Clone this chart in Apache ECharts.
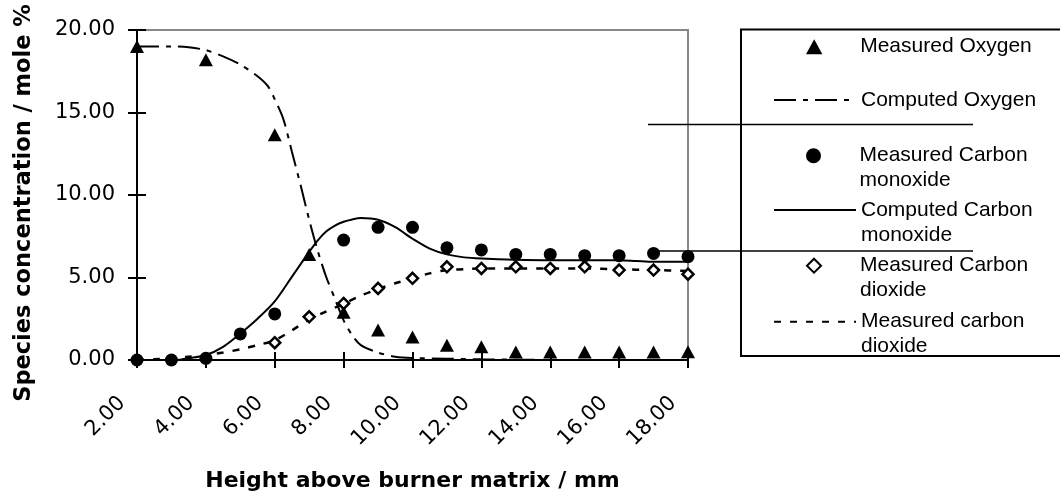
<!DOCTYPE html>
<html>
<head>
<meta charset="utf-8">
<script src="https://cdn.jsdelivr.net/npm/echarts@6/dist/echarts.min.js"></script>
<style>html,body{margin:0;padding:0;background:#fff}#c{width:1060px;height:497px}</style>
</head>
<body>
<div id="c"></div>
<script>
// ---- data ----
const xTickLabels = ['2.00', '4.00', '6.00', '8.00', '10.00', '12.00', '14.00', '16.00', '18.00'];
const yTickLabels = ['0.00', '5.00', '10.00', '15.00', '20.00'];

const measuredO2 = [[2, 19.0], [4, 18.2], [6, 13.65], [7, 6.4], [8, 2.9], [9, 1.82], [10, 1.39], [11, 0.9], [12, 0.8],
  [13, 0.48], [14, 0.48], [15, 0.48], [16, 0.48], [17, 0.48], [18, 0.5]];
const computedO2 = [[2, 19.0], [3, 19.0], [3.5, 18.95], [4, 18.78], [4.5, 18.4], [5, 17.9], [5.5, 17.2], [5.8, 16.6],
  [6, 15.8], [6.25, 14.6], [6.5, 12.6], [6.75, 10.6], [7, 8.5], [7.25, 6.6], [7.5, 5.0], [7.75, 3.7], [8, 2.4],
  [8.25, 1.5], [8.5, 0.9], [9, 0.45], [9.5, 0.2], [10, 0.12], [11, 0.08], [12, 0.04], [13, 0.02], [14, 0.0],
  [15, 0.0], [16, 0.0], [17, 0.0], [18, 0.0]];
const measuredCO = [[2, 0.0], [3, 0.0], [4, 0.1], [5, 1.58], [6, 2.79], [8, 7.27], [9, 8.04], [10, 8.04], [11, 6.8],
  [12, 6.67], [13, 6.4], [14, 6.4], [15, 6.32], [16, 6.32], [17, 6.46], [18, 6.26]];
const computedCO = [[2, 0.0], [3, 0.0], [3.25, 0.02], [3.5, 0.1], [4, 0.3], [4.5, 0.8], [5, 1.6], [5.5, 2.5], [6, 3.55],
  [6.5, 5.05], [7, 6.55], [7.25, 7.25], [7.5, 7.8], [7.75, 8.15], [8, 8.38], [8.25, 8.52], [8.5, 8.6], [9, 8.5],
  [9.5, 8.05], [10, 7.35], [10.5, 6.75], [11, 6.4], [11.5, 6.22], [12, 6.15], [13, 6.08], [14, 6.05], [15, 6.05],
  [16, 6.05], [16.5, 6.0], [17, 5.95], [18, 5.95]];
const measuredCO2 = [[6, 1.05], [7, 2.62], [8, 3.43], [9, 4.34], [10, 4.95], [11, 5.65], [12, 5.55], [13, 5.65],
  [14, 5.55], [15, 5.65], [16, 5.45], [17, 5.45], [18, 5.2]];
const computedCO2 = [[2, 0.0], [2.5, 0.05], [3, 0.1], [3.5, 0.2], [4, 0.3], [4.5, 0.45], [5, 0.65], [5.5, 0.9], [6, 1.2],
  [6.5, 1.8], [7, 2.45], [7.5, 2.95], [8, 3.4], [8.5, 3.9], [9, 4.3], [9.5, 4.65], [10, 4.95], [10.5, 5.25],
  [11, 5.45], [11.5, 5.5], [12, 5.55], [13, 5.55], [14, 5.55], [15, 5.55], [16, 5.5], [17, 5.45], [18, 5.4]];

const seriesNames = ['Measured Oxygen', 'Computed Oxygen', 'Measured Carbon monoxide',
  'Computed Carbon monoxide', 'Measured Carbon dioxide', 'Measured carbon dioxide'];
const legendTexts = ['Measured Oxygen', 'Computed Oxygen', '\nMeasured Carbon\nmonoxide',
  '\nComputed Carbon\nmonoxide', '\nMeasured Carbon\ndioxide', '\nMeasured carbon\ndioxide'];

// ---- chart ----
const chart = echarts.init(document.getElementById('c'), null, {renderer: 'canvas'});
const tickFont = 'DejaVu Sans';
const xMap = {}; xTickLabels.forEach((t, i) => { xMap[2 + 2 * i] = t; });
const yMap = {}; yTickLabels.forEach((t, i) => { yMap[5 * i] = t; });

const legendTops = [34.2, 87.5, 118.2, 172.5, 228.2, 284.2];
const legendLefts = [806, 773, 806, 773, 806, 773];
const legendHeights = [15, 12, 15, 12, 14, 12];
const legendIcons = [
  'path://M6,0L12,11L0,11Z',
  null,
  'path://M0,6A6,6 0 1,0 12,6A6,6 0 1,0 0,6Z',
  null,
  'path://M6,0L12,6L6,12L0,6Z',
  null
];
const legends = seriesNames.map((n, i) => {
  const item = {name: n};
  if (legendIcons[i]) {
    item.icon = legendIcons[i];
    item.itemStyle = i === 4 ? {color: '#fff', borderColor: '#000', borderWidth: 2, opacity: 1}
                             : {color: '#000', borderWidth: 0, opacity: 1};
  } else {
    item.itemStyle = {opacity: 0};
  }
  return {
    data: [item], left: legendLefts[i], top: legendTops[i], orient: 'vertical', padding: 0, itemGap: 0,
    itemWidth: 82, itemHeight: legendHeights[i], selectedMode: false, symbolKeepAspect: true,
    formatter: () => legendTexts[i],
    textStyle: {fontFamily: 'Liberation Sans', fontSize: 21, color: '#000', lineHeight: 25}
  };
});

const option = {
  backgroundColor: '#fff',
  animation: false,
  grid: {left: 137, right: 372, top: 30, bottom: 137, show: true, borderColor: '#888', borderWidth: 2, backgroundColor: '#fff'},
  legend: legends,
  xAxis: [{
    type: 'value', min: 2, max: 18, interval: 2, position: 'bottom',
    name: 'Height above burner matrix / mm', nameLocation: 'middle', nameGap: 110,
    nameTextStyle: {fontFamily: 'DejaVu Sans', fontWeight: 'bold', fontSize: 22, color: '#000'},
    axisLine: {show: true, lineStyle: {color: '#000', width: 2}},
    axisTick: {show: true, inside: false, length: 8, lineStyle: {color: '#000', width: 2}},
    axisLabel: {rotate: 45, margin: 25, padding: [0, 21, 0, 0], fontFamily: tickFont, fontSize: 21, color: '#000',
      formatter: v => xMap[v] !== undefined ? xMap[v] : ''},
    splitLine: {show: false}
  }, {
    type: 'value', min: 2, max: 18, interval: 2, position: 'bottom',
    axisLine: {show: false}, axisLabel: {show: false}, splitLine: {show: false},
    axisTick: {show: true, inside: true, length: 8, lineStyle: {color: '#000', width: 2}}
  }],
  yAxis: [{
    type: 'value', min: 0, max: 20, interval: 5, position: 'left',
    name: 'Species concentration / mole %', nameLocation: 'middle', nameGap: 101, nameRotate: 90,
    nameTextStyle: {fontFamily: 'DejaVu Sans', fontWeight: 'bold', fontSize: 22.5, color: '#000', padding: [0, 16, 0, 0]},
    axisLine: {show: true, lineStyle: {color: '#000', width: 2}},
    axisTick: {show: true, inside: false, length: 9, lineStyle: {color: '#000', width: 2}},
    axisLabel: {margin: 22, fontFamily: tickFont, fontSize: 21, color: '#000',
      formatter: v => yMap[v] !== undefined ? yMap[v] : ''},
    splitLine: {show: false}
  }, {
    type: 'value', min: 0, max: 20, interval: 5, position: 'left',
    axisLine: {show: false}, axisLabel: {show: false}, splitLine: {show: false},
    axisTick: {show: true, inside: true, length: 9, lineStyle: {color: '#000', width: 2}}
  }],
  series: [
    {name: seriesNames[1], type: 'line', data: computedO2, smooth: 0.3, symbol: 'none', showSymbol: false, z: 2,
      lineStyle: {color: '#000', width: 2, type: [22, 7, 5, 7]}, itemStyle: {color: '#000'}},
    {name: seriesNames[3], type: 'line', data: computedCO, smooth: 0.3, symbol: 'none', showSymbol: false, z: 2,
      lineStyle: {color: '#000', width: 2, type: 'solid'}, itemStyle: {color: '#000'}},
    {name: seriesNames[5], type: 'line', data: computedCO2, smooth: 0.3, symbol: 'none', showSymbol: false, z: 2,
      lineStyle: {color: '#000', width: 2.5, type: [7, 9]}, itemStyle: {color: '#000'}},
    {name: seriesNames[0], type: 'scatter', data: measuredO2, symbol: 'triangle', symbolSize: [14, 13], z: 3,
      itemStyle: {color: '#000', opacity: 1}},
    {name: seriesNames[2], type: 'scatter', data: measuredCO, symbol: 'circle', symbolSize: 13, z: 3,
      itemStyle: {color: '#000', opacity: 1}},
    {name: seriesNames[4], type: 'scatter', data: measuredCO2, symbol: 'diamond', symbolSize: 11, z: 4,
      itemStyle: {color: '#fff', borderColor: '#000', borderWidth: 2.5, opacity: 1}}
  ],
  graphic: [
    {type: 'rect', silent: true, z: 10, shape: {x: 741, y: 29.5, width: 340, height: 326.5},
      style: {fill: 'none', stroke: '#000', lineWidth: 2}},
    {type: 'line', silent: true, z: 10, shape: {x1: 648, y1: 124.5, x2: 973, y2: 124.5},
      style: {stroke: '#000', lineWidth: 1.5}},
    {type: 'line', silent: true, z: 10, shape: {x1: 656, y1: 251, x2: 973, y2: 251},
      style: {stroke: '#000', lineWidth: 1.5}}
  ]
};
chart.setOption(option);
</script>
</body>
</html>
